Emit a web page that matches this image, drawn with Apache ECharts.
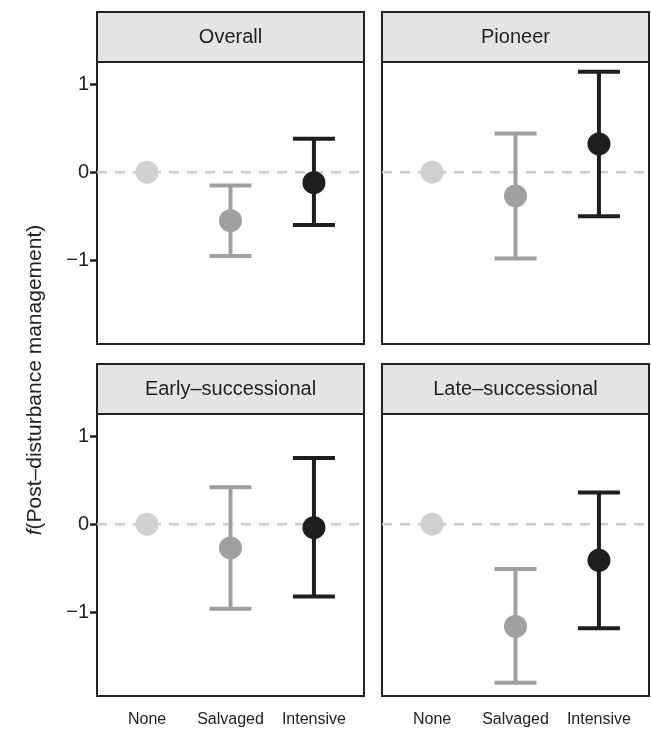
<!DOCTYPE html><html><head><meta charset="utf-8"><script src="https://cdn.jsdelivr.net/npm/echarts@6/dist/echarts.min.js"></script></head><body style="margin:0"><div id="c" style="width:651px;height:729px"></div><script>
const panels=["Overall","Pioneer","Early\u2013successional","Late\u2013successional"];
const categories=["None","Salvaged","Intensive"];
const est=[[0,-0.55,-0.12],[0,-0.27,0.32],[0,-0.27,-0.04],[0,-1.16,-0.41]];
const lo=[[0,-0.95,-0.6],[0,-0.98,-0.5],[0,-0.96,-0.82],[0,-1.8,-1.18]];
const hi=[[0,-0.15,0.38],[0,0.44,1.14],[0,0.42,0.75],[0,-0.51,0.36]];
const yTicks=[-1,0,1];
const colors=["#d0d0d0","#a0a0a0","#1e1e1e"];
const L=[97,382],T=[62,414],W=267,H=282,S=50;
const F='Liberation Sans';
const grid=[],xAxis=[],yAxis=[],series=[],graphic=[];
for(let p=0;p<4;p++){const c=p%2,r=Math.floor(p/2);
grid.push({left:L[c],top:T[r],width:W,height:H,show:true,borderColor:'#222',borderWidth:2,backgroundColor:'#fff'});
xAxis.push({gridIndex:p,type:'value',min:0.4,max:3.6,splitLine:{show:false},axisLine:{show:false},axisTick:{show:false},
 axisLabel:{show:r==1,customValues:[1,2,3],formatter:v=>categories[Math.round(v)-1]||'',fontSize:16,color:'#222',margin:16,fontFamily:F}});
yAxis.push({gridIndex:p,type:'value',min:-1.95,max:1.25,splitLine:{show:false},axisLine:{show:false},
 axisTick:{show:c==0,customValues:yTicks,length:7,lineStyle:{color:'#222',width:2.5}},
 axisLabel:{show:c==0,customValues:yTicks,formatter:v=>v<0?'\u2212'+(-v):''+v,fontSize:20,color:'#222',fontFamily:F,margin:8}});
series.push({type:'line',xAxisIndex:p,yAxisIndex:p,data:[[0.4,0],[3.6,0]],symbol:'none',lineStyle:{color:'#cccccc',width:2.5,type:[10,8]},silent:true,z:1});
series.push({type:'custom',xAxisIndex:p,yAxisIndex:p,z:2,data:categories.map((k,i)=>[i+1,lo[p][i],hi[p][i]]),
 renderItem:(params,api)=>{const i=params.dataIndex;if(i==0)return null;const a=api.coord([api.value(0),api.value(1)]),b=api.coord([api.value(0),api.value(2)]);const hw=21;const st={stroke:colors[i],lineWidth:4};
 return {type:'group',children:[{type:'line',shape:{x1:a[0],y1:a[1],x2:b[0],y2:b[1]},style:st},{type:'line',shape:{x1:a[0]-hw,y1:a[1],x2:a[0]+hw,y2:a[1]},style:st},{type:'line',shape:{x1:b[0]-hw,y1:b[1],x2:b[0]+hw,y2:b[1]},style:st}]};}});
series.push({type:'scatter',xAxisIndex:p,yAxisIndex:p,z:3,symbolSize:23,data:categories.map((k,i)=>({value:[i+1,est[p][i]],itemStyle:{color:colors[i],opacity:1}}))});
graphic.push({type:'rect',shape:{x:L[c],y:T[r]-S,width:W,height:S},style:{fill:'#e4e4e4',stroke:'#222',lineWidth:2}});
graphic.push({type:'text',x:L[c]+W/2,y:T[r]-S/2,style:{text:panels[p],fill:'#222',fontSize:20,fontFamily:F,align:'center',verticalAlign:'middle'}});
}
graphic.push({type:'text',x:35,y:380,rotation:Math.PI/2,style:{text:'{i|f}(Post\u2013disturbance management)',rich:{i:{fontStyle:'italic',fontSize:21,fontFamily:F,fill:'#222'}},fill:'#222',fontSize:21,fontFamily:F,align:'center',verticalAlign:'middle'}});
const ch=echarts.init(document.getElementById('c'));
ch.setOption({animation:false,grid,xAxis,yAxis,series,graphic});
</script></body></html>
